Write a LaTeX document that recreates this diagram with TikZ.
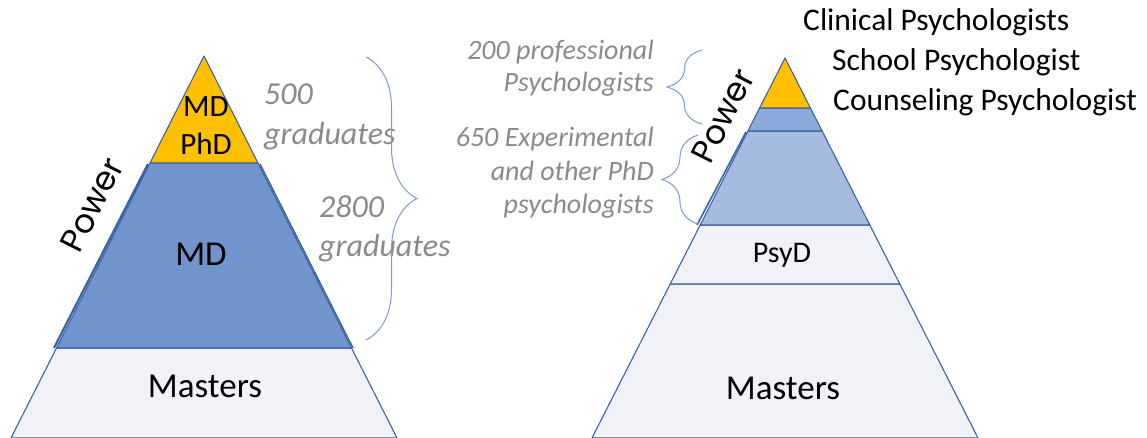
\documentclass[tikz,border=0pt]{standalone}
\usepackage{fontspec}
\setmainfont{Carlito}
\newfontfamily\geofont{Poppins}
\usetikzlibrary{decorations.pathreplacing}
\definecolor{gold}{HTML}{FFC000}
\definecolor{mdblue}{HTML}{7294CD}
\definecolor{edgeblue}{HTML}{3B62A3}
\definecolor{paleband}{HTML}{F0F2F7}
\definecolor{midband}{HTML}{8DA9DB}
\definecolor{lightband}{HTML}{A6BBE0}
\definecolor{notegray}{HTML}{8A8A8A}
\definecolor{bracecol}{HTML}{7A9AD6}
\tikzset{
  layer/.style={draw=edgeblue, line width=1.1pt, line join=round},
  label/.style={text=black, inner sep=0pt},
  note/.style={text=notegray, inner sep=0pt, font=\itshape},
  powerlabel/.style={text=black, inner sep=0pt, rotate=63.3,
    font=\geofont\fontsize{33}{36}\selectfont},
  curly/.style={draw=bracecol, line width=1pt, decorate,
    decoration={brace, amplitude=#1, aspect=0.5}},
}
\newcommand{\fs}[2]{\fontsize{#1}{#2}\selectfont}
\begin{document}
\begin{tikzpicture}[x=1pt, y=-1pt]
\useasboundingbox (0,0) rectangle (1147,438);

% ---------- left pyramid ----------
\path[layer, fill=paleband] (56.5,348) -- (351.5,348) -- (397,438) -- (11,438) -- cycle;
\path[layer, fill=mdblue] (150,163) -- (258,163) -- (351.5,348) -- (56.5,348) -- cycle;
\draw[edgeblue, line width=2.2pt] (148,164) -- (54,348);
\draw[edgeblue, line width=1.4pt] (260,164) -- (353,348);
\path[layer, fill=gold] (204,56) -- (258,163) -- (150,163) -- cycle;

\node[label, align=center, font=\fs{31}{38}] (mdphd) at (206,126) {MD\\PhD};
\node[label, font=\fs{35}{40}] (md) at (201,254) {MD};
\node[label, font=\fs{35}{40}] (mastersL) at (205,386) {Masters};
\node[powerlabel] (powerL) at (92,205) {Power};

\node[note, anchor=west, align=left, font=\itshape\fs{32}{40}] (n500) at (264,117) {500\\graduates};
\node[note, anchor=west, align=left, font=\itshape\fs{32}{39}] (n2800) at (319,229) {2800\\graduates};

\coordinate (bLtop) at (366,57);
\coordinate (bLbot) at (366,340);
\draw[curly=51] (bLtop) -- (bLbot);

% ---------- right pyramid ----------
\path[layer, fill=paleband] (670.2,284) -- (899.8,284) -- (978,438) -- (592,438) -- cycle;
\path[layer, fill=paleband] (700.2,225) -- (869.8,225) -- (899.8,284) -- (670.2,284) -- cycle;
\path[layer, fill=lightband] (747.9,131) -- (822.1,131) -- (869.8,225) -- (700.2,225) -- cycle;
\draw[edgeblue, line width=1.6pt] (746,132) -- (697,225);
\path[layer, fill=midband] (759.6,108) -- (810.4,108) -- (822.1,131) -- (747.9,131) -- cycle;
\path[layer, fill=gold] (785,58) -- (810.4,108) -- (759.6,108) -- cycle;

\node[label, font=\fs{30}{36}] (psyd) at (782,255) {PsyD};
\node[label, font=\fs{35}{40}] (mastersR) at (783,388) {Masters};
\node[powerlabel] (powerR) at (723,116) {Power};

\node[label, anchor=base west, font=\fs{31.5}{36}] (clin) at (803,31) {Clinical Psychologists};
\node[label, anchor=base west, font=\fs{31.5}{36}] (school) at (832,71) {School Psychologist};
\node[label, anchor=base west, font=\fs{31.5}{36}] (couns) at (833,111) {Counseling Psychologist};

\node[note, anchor=east, align=right, font=\itshape\fs{28}{32}] (n200) at (654,68) {200 professional\\Psychologists};
\node[note, anchor=east, align=right, font=\itshape\fs{28}{33.5}] (n650) at (654,173) {650 Experimental\\and other PhD\\psychologists};

\coordinate (bR1bot) at (702,124);
\coordinate (bR1top) at (702,50);
\draw[curly=35] (bR1bot) -- (bR1top);
\coordinate (bR2bot) at (698,224);
\coordinate (bR2top) at (698,135);
\draw[curly=36] (bR2bot) -- (bR2top);
\end{tikzpicture}
\end{document}
